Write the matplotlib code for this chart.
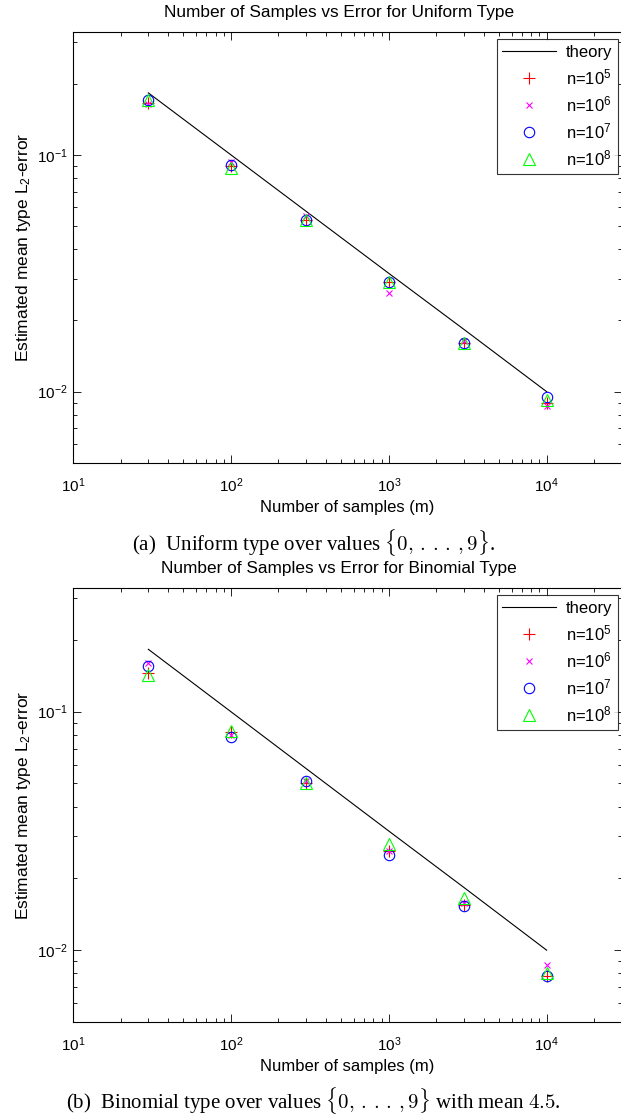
import numpy as np
import matplotlib.pyplot as plt
from matplotlib.ticker import LogLocator, NullFormatter

plt.rcParams['font.family'] = ['Liberation Sans', 'DejaVu Sans']
plt.rcParams['mathtext.fontset'] = 'custom'
plt.rcParams['mathtext.rm'] = 'Liberation Sans'
plt.rcParams['mathtext.it'] = 'Liberation Sans:italic'

# Numero de muestras
m = [30, 100, 300, 1000, 3000, 10000]
theory = [0.1826, 0.1, 0.0577, 0.0316, 0.0183, 0.01]

# Tipo uniforme
uni_n5 = [0.166, 0.090, 0.053, 0.029, 0.016, 0.0090]
uni_n6 = [0.164, 0.093, 0.055, 0.026, 0.0163, 0.0087]
uni_n7 = [0.170, 0.091, 0.053, 0.029, 0.016, 0.0095]
uni_n8 = [0.170, 0.088, 0.053, 0.029, 0.016, 0.0092]

# Tipo binomial
bin_n5 = [0.145, 0.082, 0.050, 0.026, 0.0155, 0.0078]
bin_n6 = [0.160, 0.080, 0.051, 0.026, 0.0157, 0.0087]
bin_n7 = [0.155, 0.078, 0.051, 0.025, 0.0153, 0.0078]
bin_n8 = [0.142, 0.083, 0.050, 0.028, 0.0165, 0.0080]

titles = ['Number of Samples vs Error for Uniform Type',
          'Number of Samples vs Error for Binomial Type']
captions = [r'(a)  Uniform type over values $\{0,\,.\,.\,.\,,9\}$.',
            r'(b)  Binomial type over values $\{0,\,.\,.\,.\,,9\}$ with mean $4.5$.']

fig = plt.figure(figsize=(6.21, 11.15), dpi=100)
ax1 = fig.add_axes([73/621, 1-463/1115, 549/621, 431/1115])
ax2 = fig.add_axes([73/621, 1-1022/1115, 549/621, 434/1115])

for ax, data, title, cap, ycap in [
        (ax1, (uni_n5, uni_n6, uni_n7, uni_n8), titles[0], captions[0], 543),
        (ax2, (bin_n5, bin_n6, bin_n7, bin_n8), titles[1], captions[1], 1100)]:
    ax.loglog(m, theory, color='k', lw=0.8, label='theory')
    ax.plot(m, data[0], '+', color='red', ms=8, mew=0.8, label=r'n=10$^5$')
    ax.plot(m, data[1], 'x', color='magenta', ms=4, mew=0.8, label=r'n=10$^6$')
    ax.plot(m, data[2], 'o', color='blue', ms=7.5, mew=0.8, mfc='none', label=r'n=10$^7$')
    ax.plot(m, data[3], '^', color='lime', ms=8.5, mew=0.8, mfc='none', label=r'n=10$^8$')

    ax.set_xlim(10, 3e4)
    ax.set_ylim(0.005, 0.33)
    ax.xaxis.set_minor_locator(LogLocator(base=10, subs=np.arange(2, 10)))
    ax.yaxis.set_minor_locator(LogLocator(base=10, subs=np.arange(2, 10)))
    ax.xaxis.set_minor_formatter(NullFormatter())
    ax.yaxis.set_minor_formatter(NullFormatter())
    ax.tick_params(which='both', direction='in', top=True, right=True,
                   labelsize=11, width=0.6)
    ax.tick_params(which='major', length=6)
    ax.tick_params(which='minor', length=3)
    ax.tick_params(axis='x', which='major', pad=10)
    for s in ax.spines.values():
        s.set_linewidth(0.8)

    ax.set_title(title, fontsize=12.4, pad=11, x=0.485)
    ax.set_xlabel('Number of samples (m)', fontsize=12, labelpad=3)
    ax.set_ylabel(r'Estimated mean type L$_2$-error', fontsize=12.5, labelpad=3)
    leg = ax.legend(loc='upper right', fontsize=12, frameon=True, fancybox=False,
                    edgecolor='k', handlelength=3.2, borderaxespad=0.3,
                    labelspacing=0.43, borderpad=0.35, handletextpad=0.6,
                    bbox_to_anchor=(1.002, 0.995))
    leg.get_frame().set_linewidth(0.8)

    fig.text(0.505, 1-ycap/1115, cap, ha='center', va='center',
             family='Liberation Serif', fontsize=15, math_fontfamily='cm')

fig.savefig('out.png', dpi=100)
